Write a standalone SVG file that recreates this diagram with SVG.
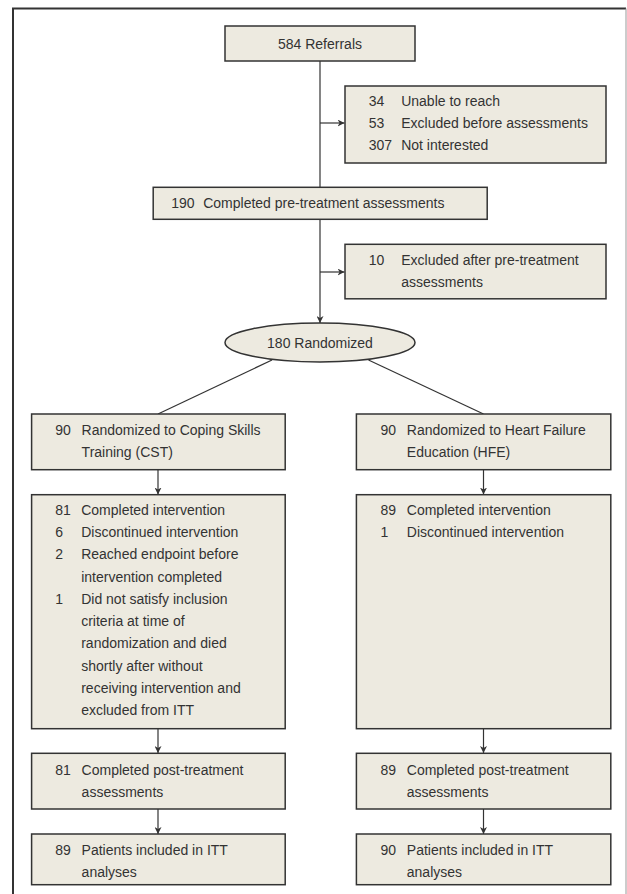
<svg xmlns="http://www.w3.org/2000/svg" width="627" height="894" viewBox="0 0 627 894">
<style>
.box{fill:#EDEAE0;stroke:#333;stroke-width:1.5}
.t{font-family:"Liberation Sans",Arial,sans-serif;font-size:14px;fill:#333}
.c{text-anchor:middle}
.ln{stroke:#333;stroke-width:1.2;fill:none}
.ar{stroke:#333;stroke-width:1.2;fill:none;marker-end:url(#ah)}
</style>
<defs>
<marker id="ah" viewBox="0 0 10 10" refX="10" refY="5" markerWidth="7" markerHeight="7" markerUnits="userSpaceOnUse" orient="auto">
<path d="M0,0 L10,5 L0,10 L3,5 Z" fill="#333"/>
</marker>
</defs>
<rect width="627" height="894" fill="#fff"/>
<g id="frame">
<path d="M13,894 V8.5 H626" fill="none" stroke="#333" stroke-width="2"/>
<line x1="626" y1="8.5" x2="626" y2="894" stroke="#999" stroke-width="1"/>
</g>
<g id="connectors">
<line class="ln" x1="320" y1="61" x2="320" y2="187"/>
<line class="ar" x1="320" y1="123" x2="344.5" y2="123"/>
<line class="ar" x1="320" y1="219" x2="320" y2="323"/>
<line class="ar" x1="320" y1="272" x2="344.5" y2="272"/>
<line class="ln" x1="272" y1="360" x2="158" y2="414"/>
<line class="ln" x1="368.5" y1="360" x2="483.5" y2="414"/>
<line class="ar" x1="158" y1="470" x2="158" y2="494.5"/>
<line class="ar" x1="483.5" y1="470" x2="483.5" y2="494.5"/>
<line class="ar" x1="158" y1="729" x2="158" y2="753"/>
<line class="ar" x1="483.5" y1="729" x2="483.5" y2="753"/>
<line class="ar" x1="158" y1="809" x2="158" y2="834"/>
<line class="ar" x1="483.5" y1="809" x2="483.5" y2="834"/>
</g>
<g id="referrals">
<rect class="box" x="225" y="26" width="190" height="35"/>
<text class="t c" x="320" y="48.5">584 Referrals</text>
</g>
<g id="excluded1">
<rect class="box" x="345" y="86" width="261" height="77"/>
<text class="t" x="368.8" y="106">34</text><text class="t" x="401.2" y="106">Unable to reach</text>
<text class="t" x="368.8" y="128.3">53</text><text class="t" x="401.2" y="128.3">Excluded before assessments</text>
<text class="t" x="368.8" y="150.3">307</text><text class="t" x="401.2" y="150.3">Not interested</text>
</g>
<g id="pretreatment">
<rect class="box" x="153.2" y="187.3" width="334" height="32"/>
<text class="t" x="171.2" y="208.3">190</text><text class="t" x="203.2" y="208.3">Completed pre-treatment assessments</text>
</g>
<g id="excluded2">
<rect class="box" x="345" y="244.3" width="261" height="54.5"/>
<text class="t" x="368.8" y="265">10</text><text class="t" x="401.2" y="265">Excluded after pre-treatment</text>
<text class="t" x="401.2" y="286.7">assessments</text>
</g>
<g id="randomized">
<ellipse class="box" cx="320" cy="342.5" rx="95" ry="19.5"/>
<text class="t c" x="320" y="347.5">180 Randomized</text>
</g>
<g id="cst">
<rect class="box" x="31.6" y="414" width="253.6" height="55.7"/>
<text class="t" x="55.2" y="435">90</text><text class="t" x="81.6" y="435">Randomized to Coping Skills</text>
<text class="t" x="81.6" y="456.7">Training (CST)</text>
</g>
<g id="hfe">
<rect class="box" x="356.4" y="414" width="254.4" height="55.7"/>
<text class="t" x="380.4" y="435">90</text><text class="t" x="406.8" y="435">Randomized to Heart Failure</text>
<text class="t" x="406.8" y="456.7">Education (HFE)</text>
</g>
<g id="cst-intervention">
<rect class="box" x="31.6" y="494.7" width="253.6" height="234"/>
<text class="t" x="55.2" y="515">81</text><text class="t" x="81.2" y="515">Completed intervention</text>
<text class="t" x="55.2" y="537.3">6</text><text class="t" x="81.2" y="537.3">Discontinued intervention</text>
<text class="t" x="55.2" y="559.3">2</text><text class="t" x="81.2" y="559.3">Reached endpoint before</text>
<text class="t" x="81.2" y="581.6">intervention completed</text>
<text class="t" x="55.2" y="604">1</text><text class="t" x="81.2" y="604">Did not satisfy inclusion</text>
<text class="t" x="81.2" y="626">criteria at time of</text>
<text class="t" x="81.2" y="648.3">randomization and died</text>
<text class="t" x="81.2" y="670.6">shortly after without</text>
<text class="t" x="81.2" y="692.7">receiving intervention and</text>
<text class="t" x="81.2" y="715">excluded from ITT</text>
</g>
<g id="hfe-intervention">
<rect class="box" x="356.4" y="494.7" width="254.4" height="234"/>
<text class="t" x="380.4" y="515">89</text><text class="t" x="406.8" y="515">Completed intervention</text>
<text class="t" x="380.4" y="537.3">1</text><text class="t" x="406.8" y="537.3">Discontinued intervention</text>
</g>
<g id="cst-post">
<rect class="box" x="31.6" y="753.3" width="253.6" height="55.7"/>
<text class="t" x="55.2" y="775">81</text><text class="t" x="81.6" y="775">Completed post-treatment</text>
<text class="t" x="81.6" y="796.7">assessments</text>
</g>
<g id="hfe-post">
<rect class="box" x="356.4" y="753.3" width="254.4" height="55.7"/>
<text class="t" x="380.4" y="775">89</text><text class="t" x="406.8" y="775">Completed post-treatment</text>
<text class="t" x="406.8" y="796.7">assessments</text>
</g>
<g id="cst-itt">
<rect class="box" x="31.6" y="834" width="253.6" height="50.7"/>
<text class="t" x="55.2" y="855">89</text><text class="t" x="81.6" y="855">Patients included in ITT</text>
<text class="t" x="81.6" y="876.7">analyses</text>
</g>
<g id="hfe-itt">
<rect class="box" x="356.4" y="834" width="254.4" height="50.7"/>
<text class="t" x="380.4" y="855">90</text><text class="t" x="406.8" y="855">Patients included in ITT</text>
<text class="t" x="406.8" y="876.7">analyses</text>
</g>
</svg>
